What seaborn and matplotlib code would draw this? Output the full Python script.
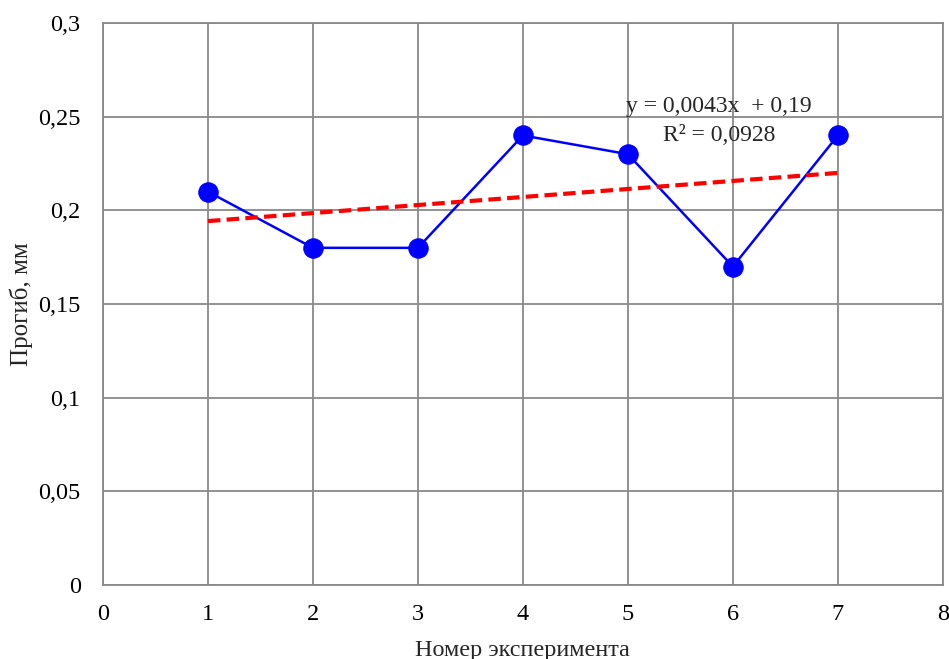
import numpy as np
import pandas as pd
import matplotlib
matplotlib.use("Agg")
import matplotlib.pyplot as plt
import seaborn as sns

experiments = [1, 2, 3, 4, 5, 6, 7]
deflection = [0.21, 0.18, 0.18, 0.24, 0.23, 0.17, 0.24]
y_ticks = [0, 0.05, 0.1, 0.15, 0.2, 0.25, 0.3]
y_tick_labels = ["0", "0,05", "0,1", "0,15", "0,2", "0,25", "0,3"]
x_ticks = [0, 1, 2, 3, 4, 5, 6, 7, 8]

sns.set_style("white")
plt.rcParams['font.family'] = ['Liberation Serif', 'DejaVu Serif']

df = pd.DataFrame({"x": experiments, "y": deflection})

# linear trend
k, b = np.polyfit(df.x, df.y, 1)
trend = pd.DataFrame({"x": [experiments[0], experiments[-1]]})
trend["y"] = k * trend.x + b

fig = plt.figure(figsize=(9.49, 6.59), dpi=100)
ax = fig.add_axes([0.1085, 0.1123, 0.885, 0.8527])

sns.lineplot(data=df, x="x", y="y", ax=ax, color="#0000FF", linewidth=1.8,
             marker="o", markersize=14, markeredgecolor="#0000FF", zorder=3)
sns.lineplot(data=trend, x="x", y="y", ax=ax, color="#FF0000", linewidth=3,
             linestyle=(0, (3, 1.5)), zorder=4)

ax.set_xlim(0, 8)
ax.set_ylim(0, 0.3)
ax.set_xticks(x_ticks)
ax.set_yticks(y_ticks)
ax.set_yticklabels(y_tick_labels)
ax.grid(True, color="#898989", linewidth=1.3)
for s in ax.spines.values():
    s.set_color("#898989")
    s.set_linewidth(1.3)
ax.tick_params(axis="both", labelsize=17.5, length=0, colors="black")
ax.tick_params(axis="x", pad=14)
ax.tick_params(axis="y", pad=16)

ax.set_xlabel("Номер эксперимента", fontsize=17.5)
ax.set_ylabel("Прогиб, мм", fontsize=18)
ax.xaxis.set_label_coords(0.5, -0.097)
ax.yaxis.set_label_coords(-0.083, 0.5)

ax.text(5.87, 0.2557, "y = 0,0043x  + 0,19", fontsize=17, ha="center", va="center")
ax.text(5.87, 0.2402, "R² = 0,0928", fontsize=17, ha="center", va="center")

fig.savefig("out.png", dpi=100)
